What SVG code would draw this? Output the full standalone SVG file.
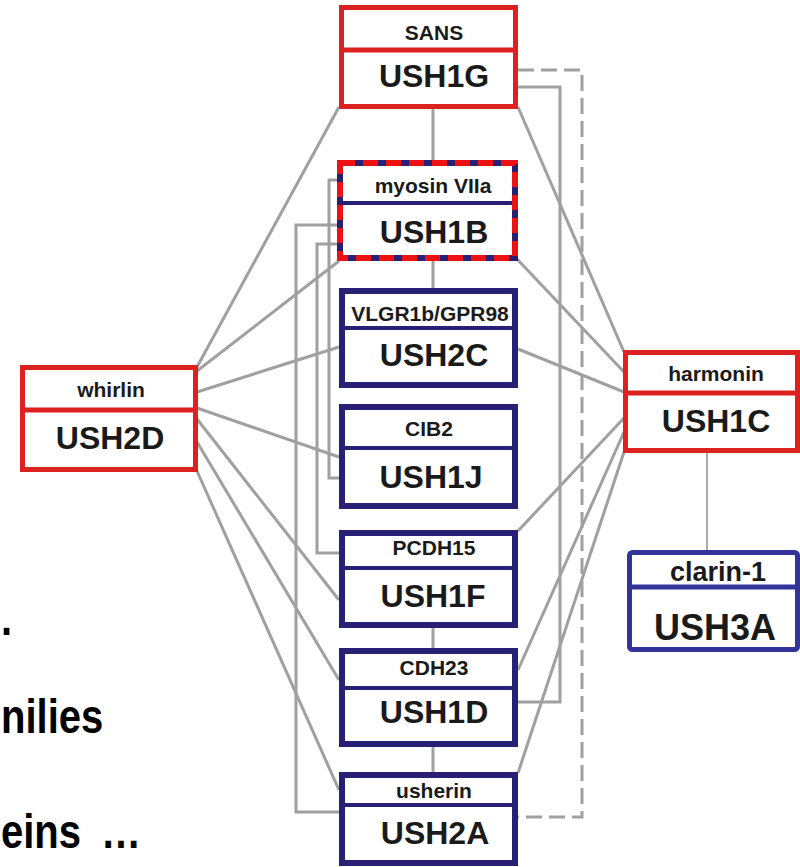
<svg xmlns="http://www.w3.org/2000/svg" width="800" height="867" viewBox="0 0 800 867">
<style>
.c{fill:none;stroke:#a0a0a0;stroke-width:3}
.d{fill:none;stroke:#a0a0a0;stroke-width:3;stroke-dasharray:16 7}
.t{fill:none;stroke:#ababab;stroke-width:2}
.red{fill:#fff;stroke:#dd2020;stroke-width:5}
.navy{fill:#fff;stroke:#272075;stroke-width:6}
.blue{fill:#fff;stroke:#333399;stroke-width:5}
.rdash{fill:none;stroke:#ee1111;stroke-width:6;stroke-dasharray:15 8}
.dr{stroke:#dd2020;stroke-width:5}
.dn{stroke:#272075;stroke-width:4}
.db{stroke:#333399;stroke-width:5}
text{font-family:"Liberation Sans",Arial,Helvetica,sans-serif;font-weight:bold;fill:#1a1a1a}
.s{font-size:21px;text-anchor:middle}
.b{font-size:32px;text-anchor:middle}
.L{font-size:40px;fill:#000}
</style>
<rect x="0" y="0" width="800" height="867" fill="#fff"/>
<g id="connectors">
<path class="c" d="M339,107 L197,367"/>
<path class="c" d="M339,261 L197,371"/>
<path class="c" d="M339,347 L197,392"/>
<path class="c" d="M339,457 L197,408"/>
<path class="c" d="M339,600 L197,419"/>
<path class="c" d="M339,680 L197,442"/>
<path class="c" d="M339,790 L197,471"/>
<path class="c" d="M518,107 L624,352"/>
<path class="c" d="M517,259 L624,372"/>
<path class="c" d="M518,349 L624,392"/>
<path class="c" d="M518,531 L624,418"/>
<path class="c" d="M518,670 L624,432"/>
<path class="c" d="M518,773 L624,452"/>
<path class="c" d="M433,109 V160"/>
<path class="c" d="M433,261 V288"/>
<path class="c" d="M433,628 V648"/>
<path class="c" d="M433,747 V772"/>
<path class="c" d="M518,87 H560 V702 H518"/>
<path class="d" d="M518,70 H582 V817 H518"/>
<path class="c" d="M338,180 H329 V478 H339"/>
<path class="c" d="M338,225 H296 V812 H339"/>
<path class="c" d="M338,244 H317 V553 H339"/>
<path class="t" d="M707,453 V550"/>
</g>
<g id="USH1G">
<rect class="red" x="341.5" y="7.5" width="174" height="99"/>
<line class="dr" x1="341.5" y1="50" x2="515.5" y2="50"/>
<text class="s" x="434" y="40">SANS</text>
<text class="b" x="434" y="87">USH1G</text>
</g>
<g id="USH1B">
<rect class="navy" x="340" y="163" width="175" height="95"/>
<line class="dn" x1="340" y1="203" x2="515" y2="203"/>
<rect class="rdash" x="340" y="163" width="175" height="95"/>
<text class="s" x="433" y="193">myosin VIIa</text>
<text class="b" x="434" y="243">USH1B</text>
</g>
<g id="USH2C">
<rect class="navy" x="342" y="291" width="173" height="94"/>
<line class="dn" x1="342" y1="328" x2="515" y2="328"/>
<text class="s" x="430" y="321">VLGR1b/GPR98</text>
<text class="b" x="434" y="366">USH2C</text>
</g>
<g id="USH1J">
<rect class="navy" x="342" y="407" width="173" height="99"/>
<line class="dn" x1="342" y1="448" x2="515" y2="448"/>
<text class="s" x="429" y="436">CIB2</text>
<text class="b" x="431" y="488">USH1J</text>
</g>
<g id="USH1F">
<rect class="navy" x="342" y="533" width="173" height="92"/>
<line class="dn" x1="342" y1="568" x2="515" y2="568"/>
<text class="s" x="434" y="555">PCDH15</text>
<text class="b" x="433" y="607">USH1F</text>
</g>
<g id="USH1D">
<rect class="navy" x="342" y="651" width="173" height="93"/>
<line class="dn" x1="342" y1="688" x2="515" y2="688"/>
<text class="s" x="434" y="675">CDH23</text>
<text class="b" x="434" y="723">USH1D</text>
</g>
<g id="USH2A">
<rect class="navy" x="342" y="775" width="173" height="88"/>
<line class="dn" x1="342" y1="805" x2="515" y2="805"/>
<text class="s" x="434" y="798">usherin</text>
<text class="b" x="435" y="844">USH2A</text>
</g>
<g id="USH2D">
<rect class="red" x="22.5" y="367.5" width="173" height="102"/>
<line class="dr" x1="22.5" y1="410" x2="195.5" y2="410"/>
<text class="s" x="111" y="397">whirlin</text>
<text class="b" x="110" y="449">USH2D</text>
</g>
<g id="USH1C">
<rect class="red" x="625.5" y="352.5" width="172" height="98"/>
<line class="dr" x1="625.5" y1="393" x2="797.5" y2="393"/>
<text class="s" x="716" y="381">harmonin</text>
<text class="b" x="716" y="432">USH1C</text>
</g>
<g id="USH3A">
<rect class="blue" x="629.5" y="552.5" width="168" height="97" rx="3"/>
<line class="db" x1="629.5" y1="587" x2="797.5" y2="587"/>
<text x="718" y="581" style="font-size:27px;text-anchor:middle">clarin-1</text>
<text x="715" y="640" style="font-size:36px;text-anchor:middle">USH3A</text>
</g>
<g id="side-text">
<text class="L" transform="translate(1,635) scale(1,1.2)" x="0" y="0">.</text>
<text class="L" transform="translate(1,733) scale(1,1.2)" x="0" y="0">nilies</text>
<text class="L" transform="translate(1,848) scale(1,1.2)" x="0" y="0">eins <tspan x="100">…</tspan></text>
</g>
</svg>
